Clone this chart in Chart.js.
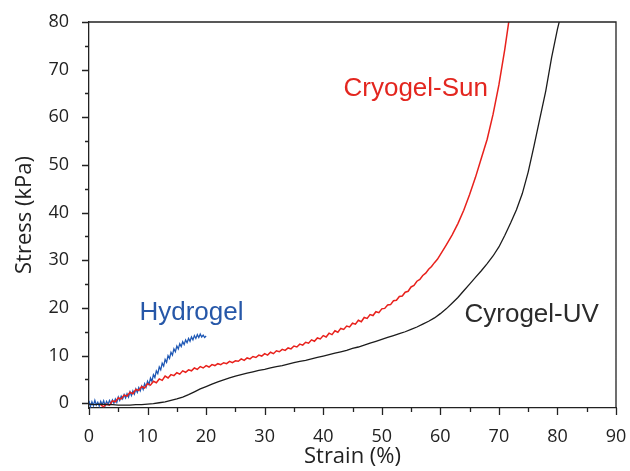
<!DOCTYPE html>
<html>
<head>
<meta charset="utf-8">
<script src="https://cdn.jsdelivr.net/npm/chart.js@4/dist/chart.umd.min.js"></script>
<style>
  html, body { margin: 0; padding: 0; background: #fff; }
  #wrap { width: 630px; height: 471px; }
</style>
</head>
<body>
<div id="wrap"><canvas id="stressChart"></canvas></div>
<script>
// strain (%) and stress (kPa)
var hydroStrain = [0,0.25,0.5,0.75,1,1.25,1.5,1.75,2,2.25,2.5,2.75,3,3.25,3.5,3.75,4,4.25,4.5,4.75,5,5.25,5.5,5.75,6,6.25,6.5,6.75,7,7.25,7.5,7.75,8,8.25,8.5,8.75,9,9.25,9.5,9.75,
  10,10.25,10.5,10.75,11,11.25,11.5,11.75,12,12.25,12.5,12.75,13,13.25,13.5,13.75,14,14.25,14.5,14.75,15,15.25,15.5,15.75,16,16.25,16.5,16.75,17,17.25,17.5,17.75,18,18.25,18.5,18.75,19,19.25,19.5,19.75,20];
var hydroStress = [0.5,-0.7,0.3,-0.5,0.6,-0.4,0.2,-0.6,0.4,-0.3,0.5,-0.5,0.4,-0.2,0.6,-0.1,0.7,0.0,0.9,0.2,1.3,0.6,1.5,0.9,1.8,1.1,2.0,1.3,2.4,1.6,2.6,1.9,3.0,2.3,3.3,2.6,3.6,2.9,4.1,3.4,
  4.6,3.9,5.3,4.6,6.0,5.4,6.8,6.2,7.6,7.0,8.4,7.8,9.2,8.6,10.0,9.4,10.7,10.1,11.4,10.8,12.0,11.4,12.5,11.9,12.9,12.3,13.3,12.7,13.6,13.0,13.9,13.3,14.2,13.6,14.4,13.8,14.5,13.9,14.3,13.8,14.1];

var sunStrain = [2,2.5,3,3.5,4,4.5,5,5.5,6,6.5,7,7.5,8,8.5,9,9.5,10,10.5,11,11.5,12,12.5,13,13.5,14,14.5,15,15.5,16,16.5,17,17.5,18,18.5,19,19.5,
  20,20.5,21,21.5,22,22.5,23,23.5,24,24.5,25,25.5,26,26.5,27,27.5,28,28.5,29,29.5,30,30.5,31,31.5,32,32.5,33,33.5,34,34.5,35,35.5,36,36.5,37,37.5,38,38.5,39,39.5,
  40,40.5,41,41.5,42,42.5,43,43.5,44,44.5,45,45.5,46,46.5,47,47.5,48,48.5,49,49.5,50,50.5,51,51.5,52,52.5,53,53.5,54,54.5,55,55.5,56,56.5,57,57.5,58,58.5,59,59.5,
  60,61,62,63,64,65,66,67,68,69,70,71,71.8];
var sunStress = [-0.4,-0.7,-0.2,-0.4,0.5,0.3,1.1,0.9,1.7,1.5,2.3,2.0,2.9,2.7,3.5,3.2,4.1,3.8,4.6,4.3,5.1,4.8,5.7,5.3,6.0,5.8,6.4,6.1,6.8,6.5,7.0,6.8,7.4,7.1,7.7,7.4,
  7.9,7.6,8.1,7.9,8.3,8.1,8.5,8.3,8.8,8.5,8.9,8.8,9.3,9.0,9.5,9.3,9.8,9.6,10.1,9.9,10.4,10.1,10.7,10.4,11.0,10.8,11.3,11.1,11.6,11.4,12.0,11.8,12.4,12.2,12.8,12.6,13.3,13.0,13.7,13.5,
  14.2,13.9,14.7,14.4,15.2,14.9,15.7,15.5,16.2,16.0,16.8,16.6,17.4,17.1,18.0,17.8,18.6,18.4,19.2,19.0,19.8,19.9,20.6,20.7,21.5,21.6,22.4,22.5,23.3,23.5,24.4,24.7,25.6,26.0,26.8,27.3,28.1,28.7,29.5,30.2,
  31.2,33.2,35.3,37.7,40.5,43.8,47.4,51.4,55.4,60.6,66.8,74.2,81];

var uvStrain = [0,1,2,3,4,5,6,7,8,9,10,11,12,13,14,15,16,17,18,19,20,21,22,23,24,25,26,27,28,29,30,31,32,33,34,35,36,37,38,39,
  40,41,42,43,44,45,46,47,48,49,50,51,52,53,54,55,56,57,58,59,60,61,62,63,64,65,66,67,68,69,70,71,72,73,74,75,76,77,78,79,80,80.5];
var uvStress = [-0.2,-0.3,-0.2,-0.3,-0.3,-0.4,-0.4,-0.4,-0.3,-0.3,-0.2,-0.1,0.1,0.3,0.6,0.9,1.3,1.8,2.4,3.0,3.5,4.0,4.5,4.9,5.3,5.7,6.0,6.3,6.6,6.9,7.1,7.4,7.7,7.9,8.2,8.5,8.8,9.0,9.3,9.6,
  9.9,10.2,10.5,10.8,11.1,11.5,11.8,12.2,12.6,13.0,13.4,13.8,14.2,14.6,15.0,15.5,16.0,16.6,17.2,17.9,18.8,19.8,21.0,22.2,23.6,25.0,26.4,27.8,29.3,30.9,32.8,35.2,37.8,40.6,44.0,48.5,54.0,59.8,65.5,72.5,78.5,81];

var xTicks = [0,5,10,15,20,25,30,35,40,45,50,55,60,65,70,75,80,85,90];
var yTicks = [0,5,10,15,20,25,30,35,40,45,50,55,60,65,70,75,80];

// curve labels, placed in data units
var notes = [
  { text: 'Cryogel-Sun', x: 55.8, y: 66.0, color: '#e3261f' },
  { text: 'Cyrogel-UV', x: 75.6, y: 18.5, color: '#2b2b2b' },
  { text: 'Hydrogel', x: 17.5, y: 19.0, color: '#2657a8' }
];

function pairs(xs, ys) {
  var out = [];
  for (var i = 0; i < xs.length; i++) {
    out.push({ x: xs[i], y: ys[i] });
  }
  return out;
}

var axisColor = '#222';

// outward ticks (long on tens), box frame and curve labels
var frameAndNotes = {
  id: 'frameAndNotes',
  afterDraw: function (chart) {
    var ctx = chart.ctx;
    var a = chart.chartArea;
    var xs = chart.scales.x, ys = chart.scales.y;
    ctx.save();
    ctx.strokeStyle = axisColor;
    ctx.lineWidth = 1.3;
    ctx.beginPath();
    ctx.moveTo(a.left, a.top);
    ctx.lineTo(a.right, a.top);
    ctx.lineTo(a.right, a.bottom);
    xs.ticks.forEach(function (t) {
      var px = Math.round(xs.getPixelForValue(t.value)) + 0.5;
      var len = t.value % 10 === 0 ? 7 : 4;
      ctx.moveTo(px, a.bottom);
      ctx.lineTo(px, a.bottom + len);
    });
    ys.ticks.forEach(function (t) {
      var py = Math.round(ys.getPixelForValue(t.value)) + 0.5;
      var len = t.value % 10 === 0 ? 7 : 4;
      ctx.moveTo(a.left, py);
      ctx.lineTo(a.left - len, py);
    });
    ctx.stroke();

    ctx.font = '26px "Liberation Sans", Arial, sans-serif';
    ctx.textAlign = 'center';
    ctx.textBaseline = 'middle';
    notes.forEach(function (n) {
      ctx.fillStyle = n.color;
      ctx.fillText(n.text, xs.getPixelForValue(n.x), ys.getPixelForValue(n.y));
    });
    ctx.restore();
  }
};

var tickFont = { family: '"Open Sans", "Noto Sans", sans-serif', size: 18 };
var titleFont = { family: '"Open Sans", "Noto Sans", sans-serif', size: 22 };

new Chart(document.getElementById('stressChart'), {
  type: 'line',
  data: {
    datasets: [
      { label: 'Cyrogel-UV', data: pairs(uvStrain, uvStress), borderColor: '#1c1c1c', borderWidth: 1.3 },
      { label: 'Cryogel-Sun', data: pairs(sunStrain, sunStress), borderColor: '#e8211c', borderWidth: 1.5 },
      { label: 'Hydrogel', data: pairs(hydroStrain, hydroStress), borderColor: '#1f58b5', borderWidth: 1.3 }
    ]
  },
  options: {
    responsive: true,
    maintainAspectRatio: false,
    animation: false,
    elements: { point: { radius: 0 }, line: { tension: 0, fill: false } },
    layout: { padding: { left: 0, top: 22, right: 14, bottom: 0 } },
    plugins: { legend: { display: false }, tooltip: { enabled: false } },
    scales: {
      x: {
        type: 'linear',
        min: 0,
        max: 90,
        afterBuildTicks: function (scale) {
          scale.ticks = xTicks.map(function (v) { return { value: v }; });
        },
        afterFit: function (scale) {
          scale.height = 63;
          // let the edge labels hang over the padding, like the figure
          scale.paddingLeft = 0;
          scale.paddingRight = 0;
        },
        grid: { display: false },
        border: { display: true, color: axisColor, width: 1.3 },
        ticks: {
          autoSkip: false,
          maxRotation: 0,
          padding: 10,
          color: axisColor,
          font: tickFont,
          callback: function (v) { return v % 10 === 0 ? v : ''; }
        },
        title: { display: true, text: 'Strain (%)', color: axisColor, font: titleFont, padding: { top: 0, bottom: 1 } }
      },
      y: {
        type: 'linear',
        min: -1,
        max: 80,
        afterBuildTicks: function (scale) {
          scale.ticks = yTicks.map(function (v) { return { value: v }; });
        },
        afterFit: function (scale) {
          scale.width = 89;
          scale.paddingTop = 0;
          scale.paddingBottom = 0;
        },
        grid: { display: false },
        border: { display: true, color: axisColor, width: 1.3 },
        ticks: {
          autoSkip: false,
          padding: 12,
          color: axisColor,
          font: tickFont,
          callback: function (v) { return v % 10 === 0 ? v : ''; }
        },
        title: { display: true, text: 'Stress (kPa)', color: axisColor, font: titleFont, padding: { top: 12, bottom: 0 } }
      }
    }
  },
  plugins: [frameAndNotes]
});
</script>
</body>
</html>
